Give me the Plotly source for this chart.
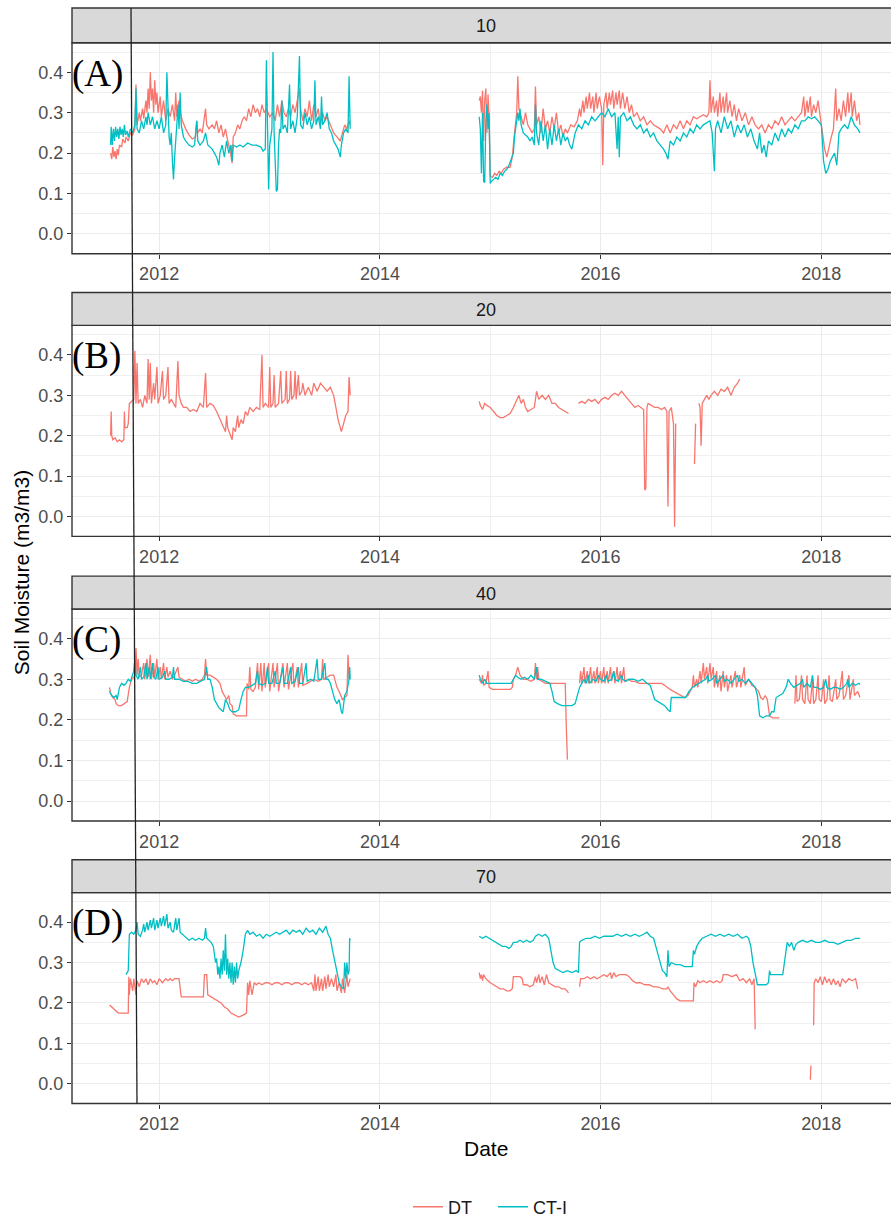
import plotly.graph_objects as go
from datetime import datetime

# ---------------- data: (decimal year, soil moisture m3/m3) ----------------
# a (year, None) entry breaks the line where the record is missing

dt_10 = [
    (2011.56, 0.200), (2011.57, 0.185), (2011.58, 0.215), (2011.59, 0.190), (2011.60, 0.205),
    (2011.61, 0.185), (2011.62, 0.210), (2011.63, 0.195), (2011.64, 0.220), (2011.66, 0.215),
    (2011.67, 0.235), (2011.69, 0.225), (2011.70, 0.240), (2011.72, 0.230), (2011.74, 0.250),
    (2011.76, 0.245), (2011.78, 0.260), (2011.79, 0.370), (2011.80, 0.270), (2011.82, 0.300),
    (2011.83, 0.280), (2011.85, 0.310), (2011.86, 0.285), (2011.88, 0.330), (2011.89, 0.300),
    (2011.90, 0.360), (2011.91, 0.310), (2011.92, 0.400), (2011.93, 0.330), (2011.94, 0.360),
    (2011.95, 0.300), (2011.96, 0.380), (2011.97, 0.320), (2011.98, 0.350), (2011.99, 0.300),
    (2012.01, 0.340), (2012.02, 0.290), (2012.04, 0.330), (2012.06, 0.280), (2012.08, 0.310),
    (2012.10, 0.290), (2012.12, 0.320), (2012.14, 0.280), (2012.15, 0.350), (2012.16, 0.290),
    (2012.18, 0.330), (2012.19, 0.300), (2012.21, 0.280), (2012.24, 0.260), (2012.27, 0.245),
    (2012.30, 0.235), (2012.33, 0.240), (2012.34, 0.280), (2012.35, 0.250), (2012.37, 0.260),
    (2012.39, 0.250), (2012.42, 0.310), (2012.43, 0.270), (2012.45, 0.260), (2012.48, 0.270),
    (2012.50, 0.260), (2012.52, 0.280), (2012.54, 0.250), (2012.56, 0.270), (2012.58, 0.240),
    (2012.60, 0.260), (2012.62, 0.230), (2012.64, 0.210), (2012.66, 0.175), (2012.67, 0.240),
    (2012.69, 0.250), (2012.71, 0.270), (2012.73, 0.260), (2012.75, 0.280), (2012.77, 0.290),
    (2012.79, 0.280), (2012.81, 0.310), (2012.83, 0.290), (2012.85, 0.320), (2012.87, 0.300),
    (2012.89, 0.310), (2012.91, 0.290), (2012.93, 0.320), (2012.95, 0.300), (2012.97, 0.310),
    (2013.00, 0.290), (2013.03, 0.300), (2013.05, 0.280), (2013.07, 0.320), (2013.09, 0.290),
    (2013.11, 0.330), (2013.13, 0.300), (2013.15, 0.290), (2013.17, 0.310), (2013.19, 0.290),
    (2013.21, 0.320), (2013.23, 0.300), (2013.25, 0.330), (2013.27, 0.360), (2013.28, 0.310),
    (2013.30, 0.280), (2013.32, 0.310), (2013.34, 0.290), (2013.36, 0.330), (2013.38, 0.280),
    (2013.40, 0.320), (2013.42, 0.290), (2013.44, 0.310), (2013.46, 0.270), (2013.48, 0.300),
    (2013.50, 0.280), (2013.52, 0.290), (2013.55, 0.270), (2013.58, 0.250), (2013.61, 0.240),
    (2013.64, 0.230), (2013.66, 0.250), (2013.68, 0.270), (2013.70, 0.260), (2013.72, 0.280),
    (2013.73, 0.270),
    (2014.30, None),
    (2014.90, 0.330), (2014.91, 0.340), (2014.92, 0.300), (2014.93, 0.355), (2014.94, 0.230),
    (2014.95, 0.330), (2014.96, 0.360), (2014.97, 0.250), (2014.98, 0.345), (2014.99, 0.280),
    (2015.00, 0.143), (2015.02, 0.140), (2015.04, 0.150), (2015.06, 0.145), (2015.08, 0.155),
    (2015.10, 0.150), (2015.12, 0.160), (2015.15, 0.165), (2015.18, 0.165), (2015.20, 0.190),
    (2015.22, 0.250), (2015.23, 0.280), (2015.24, 0.300), (2015.25, 0.390), (2015.26, 0.310),
    (2015.28, 0.290), (2015.30, 0.270), (2015.32, 0.300), (2015.34, 0.270), (2015.36, 0.260),
    (2015.38, 0.250), (2015.40, 0.260), (2015.41, 0.365), (2015.42, 0.270), (2015.44, 0.290),
    (2015.46, 0.250), (2015.48, 0.310), (2015.50, 0.260), (2015.52, 0.280), (2015.54, 0.250),
    (2015.56, 0.290), (2015.58, 0.260), (2015.60, 0.300), (2015.62, 0.250), (2015.64, 0.270),
    (2015.66, 0.240), (2015.68, 0.260), (2015.70, 0.250), (2015.73, 0.270), (2015.76, 0.265),
    (2015.79, 0.280), (2015.81, 0.310), (2015.82, 0.290), (2015.84, 0.330), (2015.85, 0.300),
    (2015.87, 0.340), (2015.88, 0.310), (2015.90, 0.350), (2015.91, 0.310), (2015.93, 0.340),
    (2015.94, 0.300), (2015.96, 0.350), (2015.97, 0.310), (2015.99, 0.340), (2016.01, 0.310),
    (2016.02, 0.170), (2016.03, 0.320), (2016.05, 0.350), (2016.06, 0.310), (2016.08, 0.350),
    (2016.09, 0.320), (2016.11, 0.355), (2016.12, 0.310), (2016.14, 0.350), (2016.15, 0.320),
    (2016.17, 0.355), (2016.18, 0.310), (2016.20, 0.350), (2016.22, 0.310), (2016.24, 0.340),
    (2016.26, 0.300), (2016.28, 0.320), (2016.30, 0.290), (2016.33, 0.300), (2016.36, 0.280),
    (2016.39, 0.290), (2016.42, 0.270), (2016.45, 0.280), (2016.48, 0.270), (2016.51, 0.265),
    (2016.54, 0.260), (2016.57, 0.250), (2016.60, 0.270), (2016.63, 0.250), (2016.66, 0.270),
    (2016.69, 0.260), (2016.72, 0.280), (2016.75, 0.260), (2016.78, 0.280), (2016.81, 0.270),
    (2016.84, 0.290), (2016.87, 0.285), (2016.90, 0.290), (2016.93, 0.295), (2016.96, 0.290),
    (2016.98, 0.300), (2016.99, 0.380), (2017.00, 0.300), (2017.02, 0.340), (2017.03, 0.300),
    (2017.05, 0.330), (2017.06, 0.290), (2017.08, 0.350), (2017.09, 0.300), (2017.11, 0.340),
    (2017.12, 0.300), (2017.14, 0.350), (2017.15, 0.300), (2017.17, 0.330), (2017.19, 0.290),
    (2017.21, 0.320), (2017.23, 0.280), (2017.25, 0.310), (2017.28, 0.280), (2017.31, 0.300),
    (2017.34, 0.270), (2017.37, 0.290), (2017.40, 0.270), (2017.43, 0.260), (2017.46, 0.270),
    (2017.49, 0.250), (2017.52, 0.270), (2017.55, 0.260), (2017.58, 0.280), (2017.61, 0.270),
    (2017.64, 0.290), (2017.67, 0.270), (2017.70, 0.280), (2017.73, 0.290), (2017.76, 0.280),
    (2017.79, 0.290), (2017.82, 0.300), (2017.84, 0.340), (2017.85, 0.290), (2017.87, 0.330),
    (2017.88, 0.300), (2017.90, 0.340), (2017.91, 0.290), (2017.93, 0.320), (2017.95, 0.300),
    (2017.97, 0.330), (2017.99, 0.290), (2018.01, 0.240), (2018.03, 0.210), (2018.05, 0.190),
    (2018.07, 0.220), (2018.09, 0.240), (2018.11, 0.260), (2018.13, 0.360), (2018.14, 0.280),
    (2018.16, 0.310), (2018.18, 0.280), (2018.20, 0.330), (2018.22, 0.290), (2018.24, 0.350),
    (2018.25, 0.300), (2018.27, 0.350), (2018.28, 0.290), (2018.30, 0.330), (2018.32, 0.280),
    (2018.34, 0.300), (2018.35, 0.270),
]

ct_10 = [
    (2011.560, 0.220), (2011.565, 0.265), (2011.575, 0.220), (2011.585, 0.260), (2011.595, 0.230),
    (2011.605, 0.265), (2011.615, 0.240), (2011.625, 0.260), (2011.635, 0.235), (2011.645, 0.265),
    (2011.655, 0.245), (2011.665, 0.260), (2011.675, 0.240), (2011.685, 0.270), (2011.695, 0.245),
    (2011.71, 0.255), (2011.72, 0.240), (2011.74, 0.260), (2011.76, 0.250), (2011.78, 0.270),
    (2011.79, 0.360), (2011.80, 0.260), (2011.82, 0.250), (2011.84, 0.280), (2011.86, 0.260),
    (2011.88, 0.290), (2011.89, 0.270), (2011.90, 0.300), (2011.92, 0.270), (2011.94, 0.290),
    (2011.96, 0.260), (2011.98, 0.280), (2012.00, 0.260), (2012.02, 0.290), (2012.04, 0.250),
    (2012.06, 0.270), (2012.07, 0.400), (2012.08, 0.280), (2012.09, 0.240), (2012.10, 0.220),
    (2012.11, 0.250), (2012.12, 0.180), (2012.13, 0.135), (2012.14, 0.190), (2012.15, 0.250),
    (2012.16, 0.270), (2012.17, 0.320), (2012.18, 0.260), (2012.19, 0.350), (2012.20, 0.270),
    (2012.22, 0.240), (2012.24, 0.230), (2012.27, 0.220), (2012.30, 0.215), (2012.32, 0.220),
    (2012.34, 0.280), (2012.35, 0.230), (2012.37, 0.220), (2012.40, 0.230), (2012.42, 0.250),
    (2012.44, 0.220), (2012.46, 0.215), (2012.48, 0.210), (2012.50, 0.200), (2012.52, 0.190),
    (2012.54, 0.170), (2012.55, 0.200), (2012.57, 0.220), (2012.59, 0.190), (2012.61, 0.230),
    (2012.63, 0.200), (2012.65, 0.220), (2012.66, 0.180), (2012.67, 0.220), (2012.70, 0.215),
    (2012.73, 0.220), (2012.76, 0.215), (2012.80, 0.225), (2012.84, 0.220), (2012.88, 0.220),
    (2012.92, 0.215), (2012.94, 0.205), (2012.96, 0.210), (2012.97, 0.430), (2012.98, 0.210),
    (2012.99, 0.110), (2013.00, 0.220), (2013.02, 0.260), (2013.03, 0.450), (2013.04, 0.250),
    (2013.06, 0.105), (2013.07, 0.110), (2013.08, 0.220), (2013.09, 0.260), (2013.10, 0.250),
    (2013.11, 0.330), (2013.12, 0.260), (2013.14, 0.270), (2013.16, 0.250), (2013.18, 0.370),
    (2013.19, 0.260), (2013.21, 0.280), (2013.23, 0.250), (2013.25, 0.290), (2013.27, 0.440),
    (2013.28, 0.270), (2013.30, 0.260), (2013.32, 0.300), (2013.34, 0.270), (2013.36, 0.290),
    (2013.38, 0.260), (2013.40, 0.280), (2013.41, 0.380), (2013.42, 0.270), (2013.44, 0.290),
    (2013.46, 0.260), (2013.47, 0.340), (2013.48, 0.270), (2013.50, 0.280), (2013.52, 0.300),
    (2013.54, 0.260), (2013.56, 0.250), (2013.58, 0.230), (2013.60, 0.220), (2013.62, 0.210),
    (2013.64, 0.190), (2013.65, 0.220), (2013.67, 0.250), (2013.69, 0.260), (2013.71, 0.250),
    (2013.72, 0.390), (2013.73, 0.260),
    (2014.30, None),
    (2014.90, 0.290), (2014.91, 0.260), (2014.92, 0.150), (2014.93, 0.300), (2014.94, 0.130),
    (2014.95, 0.127), (2014.96, 0.280), (2014.97, 0.320), (2014.98, 0.260), (2014.99, 0.300),
    (2015.00, 0.125), (2015.01, 0.130), (2015.03, 0.135), (2015.05, 0.140), (2015.07, 0.135),
    (2015.09, 0.150), (2015.11, 0.145), (2015.13, 0.155), (2015.15, 0.160), (2015.17, 0.170),
    (2015.19, 0.185), (2015.21, 0.200), (2015.22, 0.240), (2015.24, 0.280), (2015.25, 0.300),
    (2015.26, 0.280), (2015.27, 0.310), (2015.28, 0.270), (2015.30, 0.250), (2015.32, 0.245),
    (2015.34, 0.240), (2015.36, 0.230), (2015.38, 0.240), (2015.40, 0.220), (2015.41, 0.320),
    (2015.42, 0.250), (2015.44, 0.220), (2015.46, 0.280), (2015.48, 0.230), (2015.50, 0.270),
    (2015.52, 0.210), (2015.54, 0.260), (2015.56, 0.220), (2015.58, 0.270), (2015.60, 0.230),
    (2015.62, 0.260), (2015.64, 0.220), (2015.66, 0.250), (2015.68, 0.230), (2015.70, 0.240),
    (2015.72, 0.220), (2015.74, 0.210), (2015.77, 0.250), (2015.80, 0.270), (2015.83, 0.260),
    (2015.86, 0.280), (2015.89, 0.270), (2015.92, 0.290), (2015.95, 0.280), (2015.98, 0.290),
    (2016.01, 0.300), (2016.04, 0.290), (2016.07, 0.310), (2016.10, 0.290), (2016.13, 0.300),
    (2016.15, 0.210), (2016.16, 0.290), (2016.17, 0.190), (2016.18, 0.290), (2016.21, 0.300),
    (2016.24, 0.280), (2016.27, 0.290), (2016.30, 0.270), (2016.33, 0.260), (2016.36, 0.270),
    (2016.39, 0.250), (2016.42, 0.260), (2016.45, 0.240), (2016.48, 0.250), (2016.51, 0.230),
    (2016.54, 0.220), (2016.57, 0.210), (2016.59, 0.200), (2016.61, 0.185), (2016.63, 0.230),
    (2016.66, 0.220), (2016.69, 0.240), (2016.72, 0.230), (2016.75, 0.250), (2016.78, 0.240),
    (2016.81, 0.260), (2016.84, 0.250), (2016.87, 0.270), (2016.90, 0.260), (2016.93, 0.270),
    (2016.96, 0.275), (2016.99, 0.280), (2017.01, 0.250), (2017.03, 0.155), (2017.04, 0.260),
    (2017.06, 0.280), (2017.09, 0.250), (2017.12, 0.290), (2017.15, 0.260), (2017.18, 0.280),
    (2017.21, 0.240), (2017.24, 0.270), (2017.27, 0.250), (2017.30, 0.270), (2017.33, 0.240),
    (2017.36, 0.260), (2017.39, 0.230), (2017.42, 0.210), (2017.44, 0.250), (2017.46, 0.200),
    (2017.48, 0.220), (2017.50, 0.190), (2017.52, 0.230), (2017.55, 0.220), (2017.58, 0.250),
    (2017.61, 0.230), (2017.64, 0.260), (2017.67, 0.240), (2017.70, 0.260), (2017.73, 0.250),
    (2017.76, 0.270), (2017.79, 0.260), (2017.82, 0.280), (2017.85, 0.280), (2017.88, 0.290),
    (2017.91, 0.285), (2017.94, 0.290), (2017.97, 0.280), (2018.00, 0.270), (2018.02, 0.180),
    (2018.04, 0.150), (2018.06, 0.160), (2018.08, 0.180), (2018.10, 0.190), (2018.12, 0.200),
    (2018.14, 0.170), (2018.16, 0.250), (2018.18, 0.260), (2018.21, 0.270), (2018.24, 0.260),
    (2018.27, 0.290), (2018.30, 0.270), (2018.33, 0.260), (2018.35, 0.250),
]

dt_20 = [
    (2011.560, 0.200), (2011.565, 0.260), (2011.570, 0.200), (2011.58, 0.190), (2011.60, 0.195),
    (2011.62, 0.185), (2011.64, 0.190), (2011.66, 0.185), (2011.68, 0.190), (2011.685, 0.260),
    (2011.69, 0.220), (2011.71, 0.220), (2011.72, 0.230), (2011.73, 0.280), (2011.75, 0.285),
    (2011.77, 0.290), (2011.78, 0.410), (2011.79, 0.280), (2011.80, 0.380), (2011.81, 0.280),
    (2011.83, 0.290), (2011.85, 0.270), (2011.87, 0.300), (2011.89, 0.280), (2011.90, 0.390),
    (2011.91, 0.290), (2011.92, 0.380), (2011.93, 0.280), (2011.95, 0.330), (2011.96, 0.290),
    (2011.98, 0.370), (2011.99, 0.280), (2012.01, 0.300), (2012.03, 0.360), (2012.04, 0.290),
    (2012.06, 0.300), (2012.08, 0.370), (2012.09, 0.280), (2012.11, 0.290), (2012.13, 0.280),
    (2012.15, 0.270), (2012.17, 0.385), (2012.18, 0.300), (2012.20, 0.280), (2012.22, 0.270),
    (2012.25, 0.270), (2012.28, 0.260), (2012.31, 0.265), (2012.34, 0.260), (2012.37, 0.280),
    (2012.40, 0.270), (2012.42, 0.355), (2012.43, 0.270), (2012.46, 0.280), (2012.49, 0.275),
    (2012.52, 0.260), (2012.55, 0.240), (2012.58, 0.220), (2012.60, 0.210), (2012.61, 0.250),
    (2012.62, 0.220), (2012.64, 0.205), (2012.66, 0.190), (2012.67, 0.220), (2012.69, 0.210),
    (2012.71, 0.250), (2012.72, 0.220), (2012.74, 0.240), (2012.76, 0.230), (2012.78, 0.260),
    (2012.80, 0.250), (2012.82, 0.270), (2012.85, 0.260), (2012.88, 0.270), (2012.91, 0.265),
    (2012.93, 0.400), (2012.94, 0.270), (2012.96, 0.280), (2012.99, 0.270), (2013.00, 0.370),
    (2013.01, 0.270), (2013.03, 0.280), (2013.04, 0.350), (2013.05, 0.270), (2013.08, 0.280),
    (2013.10, 0.360), (2013.11, 0.280), (2013.14, 0.290), (2013.15, 0.360), (2013.16, 0.280),
    (2013.18, 0.290), (2013.19, 0.360), (2013.20, 0.290), (2013.22, 0.300), (2013.23, 0.360),
    (2013.24, 0.290), (2013.26, 0.350), (2013.27, 0.300), (2013.29, 0.310), (2013.30, 0.330),
    (2013.32, 0.300), (2013.35, 0.320), (2013.38, 0.300), (2013.40, 0.330), (2013.43, 0.310),
    (2013.46, 0.330), (2013.49, 0.320), (2013.52, 0.310), (2013.55, 0.320), (2013.58, 0.300),
    (2013.60, 0.270), (2013.62, 0.240), (2013.65, 0.210), (2013.67, 0.230), (2013.69, 0.250),
    (2013.71, 0.260), (2013.72, 0.345), (2013.73, 0.300),
    (2014.30, None),
    (2014.90, 0.285), (2014.91, 0.275), (2014.93, 0.265), (2014.95, 0.280), (2014.97, 0.275),
    (2015.00, 0.270), (2015.03, 0.260), (2015.06, 0.250), (2015.09, 0.245), (2015.12, 0.245),
    (2015.15, 0.250), (2015.18, 0.255), (2015.21, 0.270), (2015.24, 0.290), (2015.26, 0.300),
    (2015.28, 0.280), (2015.30, 0.290), (2015.32, 0.270), (2015.34, 0.260), (2015.37, 0.265),
    (2015.40, 0.270), (2015.42, 0.310), (2015.44, 0.290), (2015.47, 0.300), (2015.50, 0.290),
    (2015.53, 0.300), (2015.56, 0.280), (2015.59, 0.280), (2015.62, 0.270), (2015.65, 0.265),
    (2015.68, 0.260), (2015.71, 0.255),
    (2015.75, None),
    (2015.80, 0.280), (2015.83, 0.285), (2015.86, 0.280), (2015.89, 0.290), (2015.92, 0.285),
    (2015.95, 0.290), (2015.98, 0.280), (2016.01, 0.290), (2016.04, 0.295), (2016.07, 0.290),
    (2016.10, 0.300), (2016.13, 0.305), (2016.16, 0.300), (2016.19, 0.310), (2016.22, 0.300),
    (2016.25, 0.290), (2016.28, 0.280), (2016.31, 0.270), (2016.34, 0.275), (2016.37, 0.270),
    (2016.39, 0.265), (2016.40, 0.065), (2016.41, 0.070), (2016.42, 0.270), (2016.43, 0.280),
    (2016.46, 0.275), (2016.49, 0.270), (2016.52, 0.270), (2016.55, 0.265), (2016.58, 0.270),
    (2016.60, 0.260), (2016.61, 0.025), (2016.62, 0.260), (2016.64, 0.270), (2016.66, 0.230),
    (2016.67, -0.025), (2016.68, 0.230),
    (2016.77, None),
    (2016.85, 0.130), (2016.86, 0.230),
    (2016.875, None),
    (2016.89, 0.280), (2016.90, 0.270), (2016.91, 0.175), (2016.92, 0.280), (2016.94, 0.290),
    (2016.96, 0.300), (2016.98, 0.290), (2017.00, 0.300), (2017.03, 0.310), (2017.06, 0.300),
    (2017.09, 0.315), (2017.12, 0.310), (2017.15, 0.320), (2017.18, 0.300), (2017.21, 0.320),
    (2017.24, 0.330), (2017.26, 0.340),
]

dt_40 = [
    (2011.55, 0.280), (2011.56, 0.265), (2011.58, 0.255), (2011.60, 0.250), (2011.61, 0.240),
    (2011.63, 0.235), (2011.66, 0.235), (2011.69, 0.240), (2011.71, 0.245), (2011.73, 0.280),
    (2011.75, 0.300), (2011.77, 0.305), (2011.78, 0.310), (2011.79, 0.377), (2011.80, 0.310),
    (2011.81, 0.350), (2011.82, 0.305), (2011.84, 0.310), (2011.86, 0.340), (2011.87, 0.300),
    (2011.89, 0.350), (2011.90, 0.305), (2011.92, 0.360), (2011.93, 0.300), (2011.95, 0.340),
    (2011.96, 0.305), (2011.98, 0.350), (2011.99, 0.300), (2012.01, 0.330), (2012.02, 0.300),
    (2012.04, 0.340), (2012.05, 0.300), (2012.07, 0.330), (2012.08, 0.305), (2012.10, 0.320),
    (2012.12, 0.300), (2012.14, 0.310), (2012.17, 0.330), (2012.18, 0.305), (2012.21, 0.300),
    (2012.24, 0.295), (2012.27, 0.300), (2012.30, 0.295), (2012.33, 0.300), (2012.36, 0.295),
    (2012.39, 0.300), (2012.41, 0.310), (2012.42, 0.350), (2012.43, 0.310), (2012.46, 0.310),
    (2012.49, 0.305), (2012.52, 0.300), (2012.55, 0.290), (2012.57, 0.270), (2012.59, 0.260),
    (2012.61, 0.250), (2012.63, 0.260), (2012.64, 0.240), (2012.66, 0.235), (2012.67, 0.215),
    (2012.70, 0.210), (2012.73, 0.210), (2012.76, 0.210), (2012.79, 0.210), (2012.795, 0.290),
    (2012.81, 0.275), (2012.82, 0.330), (2012.83, 0.275), (2012.85, 0.270), (2012.87, 0.280),
    (2012.89, 0.340), (2012.90, 0.275), (2012.92, 0.340), (2012.93, 0.270), (2012.95, 0.340),
    (2012.96, 0.280), (2012.99, 0.340), (2013.00, 0.270), (2013.03, 0.340), (2013.04, 0.280),
    (2013.07, 0.340), (2013.08, 0.270), (2013.12, 0.340), (2013.13, 0.280), (2013.16, 0.340),
    (2013.17, 0.275), (2013.21, 0.340), (2013.22, 0.280), (2013.25, 0.330), (2013.26, 0.280),
    (2013.29, 0.340), (2013.30, 0.285), (2013.34, 0.290), (2013.37, 0.295), (2013.40, 0.300),
    (2013.44, 0.295), (2013.47, 0.300), (2013.48, 0.350), (2013.49, 0.300), (2013.52, 0.305),
    (2013.55, 0.310), (2013.58, 0.310), (2013.61, 0.280), (2013.63, 0.270), (2013.66, 0.250),
    (2013.68, 0.255), (2013.70, 0.260), (2013.71, 0.360), (2013.72, 0.300), (2013.73, 0.305),
    (2014.30, None),
    (2014.90, 0.300), (2014.92, 0.290), (2014.93, 0.310), (2014.94, 0.285), (2014.96, 0.290),
    (2014.98, 0.320), (2014.99, 0.280), (2015.02, 0.275), (2015.06, 0.275), (2015.10, 0.275),
    (2015.14, 0.275), (2015.18, 0.275), (2015.20, 0.280), (2015.21, 0.300), (2015.23, 0.310),
    (2015.25, 0.330), (2015.27, 0.310), (2015.30, 0.300), (2015.33, 0.300), (2015.37, 0.295),
    (2015.40, 0.300), (2015.41, 0.340), (2015.42, 0.300), (2015.43, 0.330), (2015.44, 0.300),
    (2015.47, 0.295), (2015.50, 0.290), (2015.54, 0.290), (2015.58, 0.290), (2015.62, 0.290),
    (2015.66, 0.290), (2015.68, 0.290), (2015.69, 0.180), (2015.70, 0.102),
    (2015.75, None),
    (2015.81, 0.290), (2015.82, 0.320), (2015.83, 0.290), (2015.85, 0.330), (2015.86, 0.290),
    (2015.88, 0.320), (2015.89, 0.290), (2015.91, 0.330), (2015.92, 0.290), (2015.94, 0.320),
    (2015.95, 0.290), (2015.97, 0.330), (2015.98, 0.290), (2016.00, 0.320), (2016.01, 0.290),
    (2016.03, 0.330), (2016.04, 0.290), (2016.06, 0.320), (2016.07, 0.290), (2016.09, 0.330),
    (2016.10, 0.295), (2016.12, 0.320), (2016.13, 0.290), (2016.15, 0.330), (2016.16, 0.295),
    (2016.18, 0.320), (2016.19, 0.290), (2016.21, 0.330), (2016.22, 0.295), (2016.25, 0.300),
    (2016.28, 0.295), (2016.31, 0.295), (2016.35, 0.290), (2016.40, 0.290), (2016.45, 0.290),
    (2016.50, 0.290), (2016.55, 0.290), (2016.58, 0.285), (2016.60, 0.280), (2016.63, 0.275),
    (2016.66, 0.270), (2016.69, 0.265), (2016.72, 0.260), (2016.76, 0.255), (2016.79, 0.260),
    (2016.81, 0.270), (2016.83, 0.280), (2016.84, 0.310), (2016.85, 0.280), (2016.87, 0.300),
    (2016.88, 0.280), (2016.90, 0.320), (2016.91, 0.290), (2016.93, 0.340), (2016.94, 0.300),
    (2016.96, 0.330), (2016.97, 0.290), (2016.99, 0.340), (2017.00, 0.300), (2017.02, 0.330),
    (2017.03, 0.280), (2017.05, 0.320), (2017.06, 0.280), (2017.08, 0.310), (2017.09, 0.270),
    (2017.11, 0.320), (2017.12, 0.280), (2017.14, 0.310), (2017.15, 0.270), (2017.18, 0.310),
    (2017.19, 0.280), (2017.22, 0.320), (2017.23, 0.280), (2017.26, 0.310), (2017.27, 0.280),
    (2017.30, 0.330), (2017.31, 0.285), (2017.34, 0.300), (2017.37, 0.285), (2017.40, 0.280),
    (2017.43, 0.270), (2017.45, 0.255), (2017.47, 0.250), (2017.49, 0.260), (2017.51, 0.250),
    (2017.53, 0.210), (2017.56, 0.205), (2017.59, 0.205), (2017.62, 0.205),
    (2017.70, None),
    (2017.76, 0.240), (2017.77, 0.310), (2017.78, 0.245), (2017.80, 0.250), (2017.82, 0.310),
    (2017.83, 0.250), (2017.85, 0.240), (2017.87, 0.310), (2017.88, 0.250), (2017.90, 0.240),
    (2017.92, 0.300), (2017.93, 0.240), (2017.95, 0.250), (2017.97, 0.310), (2017.98, 0.250),
    (2018.00, 0.245), (2018.02, 0.300), (2018.03, 0.240), (2018.05, 0.250), (2018.07, 0.310),
    (2018.08, 0.250), (2018.10, 0.245), (2018.13, 0.300), (2018.14, 0.250), (2018.16, 0.260),
    (2018.19, 0.320), (2018.20, 0.250), (2018.22, 0.260), (2018.25, 0.310), (2018.26, 0.250),
    (2018.29, 0.300), (2018.30, 0.260), (2018.33, 0.270), (2018.35, 0.255),
]

ct_40 = [
    (2011.55, 0.270), (2011.57, 0.260), (2011.59, 0.255), (2011.61, 0.260), (2011.62, 0.250),
    (2011.64, 0.280), (2011.66, 0.290), (2011.68, 0.285), (2011.70, 0.290), (2011.72, 0.300),
    (2011.74, 0.295), (2011.76, 0.310), (2011.77, 0.320), (2011.78, 0.350), (2011.79, 0.310),
    (2011.81, 0.300), (2011.83, 0.330), (2011.84, 0.300), (2011.86, 0.305), (2011.88, 0.340),
    (2011.89, 0.300), (2011.91, 0.330), (2011.92, 0.300), (2011.94, 0.340), (2011.95, 0.305),
    (2011.97, 0.300), (2011.99, 0.330), (2012.00, 0.300), (2012.03, 0.305), (2012.05, 0.320),
    (2012.06, 0.300), (2012.09, 0.300), (2012.12, 0.305), (2012.13, 0.330), (2012.14, 0.300),
    (2012.18, 0.300), (2012.22, 0.295), (2012.26, 0.295), (2012.30, 0.290), (2012.34, 0.290),
    (2012.38, 0.295), (2012.41, 0.300), (2012.43, 0.330), (2012.44, 0.300), (2012.46, 0.300),
    (2012.48, 0.280), (2012.50, 0.250), (2012.52, 0.240), (2012.54, 0.230), (2012.56, 0.225),
    (2012.58, 0.220), (2012.60, 0.250), (2012.62, 0.240), (2012.64, 0.225), (2012.66, 0.220),
    (2012.69, 0.220), (2012.72, 0.225), (2012.74, 0.250), (2012.76, 0.270), (2012.78, 0.280),
    (2012.81, 0.280), (2012.84, 0.285), (2012.87, 0.290), (2012.89, 0.320), (2012.90, 0.290),
    (2012.93, 0.285), (2012.96, 0.290), (2012.98, 0.330), (2012.99, 0.290), (2013.02, 0.290),
    (2013.05, 0.320), (2013.06, 0.290), (2013.09, 0.290), (2013.12, 0.330), (2013.13, 0.290),
    (2013.16, 0.290), (2013.19, 0.330), (2013.20, 0.290), (2013.23, 0.295), (2013.26, 0.330),
    (2013.27, 0.290), (2013.30, 0.290), (2013.33, 0.340), (2013.34, 0.295), (2013.37, 0.300),
    (2013.40, 0.295), (2013.43, 0.350), (2013.44, 0.300), (2013.47, 0.300), (2013.50, 0.340),
    (2013.51, 0.300), (2013.53, 0.300), (2013.55, 0.290), (2013.57, 0.270), (2013.59, 0.250),
    (2013.61, 0.240), (2013.63, 0.250), (2013.65, 0.220), (2013.66, 0.215), (2013.68, 0.260),
    (2013.70, 0.270), (2013.72, 0.300), (2013.725, 0.330), (2013.73, 0.300),
    (2014.30, None),
    (2014.90, 0.310), (2014.91, 0.300), (2014.93, 0.290), (2014.95, 0.300), (2014.97, 0.290),
    (2015.00, 0.290), (2015.05, 0.290), (2015.10, 0.290), (2015.15, 0.290), (2015.19, 0.290),
    (2015.21, 0.300), (2015.23, 0.310), (2015.25, 0.305), (2015.28, 0.300), (2015.31, 0.305),
    (2015.34, 0.300), (2015.37, 0.310), (2015.40, 0.300), (2015.42, 0.330), (2015.43, 0.300),
    (2015.46, 0.300), (2015.50, 0.295), (2015.54, 0.290), (2015.56, 0.270), (2015.58, 0.245),
    (2015.61, 0.240), (2015.65, 0.235), (2015.70, 0.235), (2015.74, 0.235), (2015.77, 0.240),
    (2015.79, 0.260), (2015.81, 0.280), (2015.83, 0.290), (2015.85, 0.300), (2015.87, 0.290),
    (2015.89, 0.310), (2015.90, 0.290), (2015.93, 0.300), (2015.96, 0.295), (2015.98, 0.310),
    (2016.00, 0.300), (2016.03, 0.295), (2016.05, 0.310), (2016.07, 0.295), (2016.10, 0.300),
    (2016.12, 0.320), (2016.13, 0.300), (2016.16, 0.295), (2016.19, 0.310), (2016.20, 0.300),
    (2016.23, 0.295), (2016.26, 0.300), (2016.30, 0.300), (2016.34, 0.295), (2016.38, 0.300),
    (2016.42, 0.290), (2016.45, 0.285), (2016.47, 0.270), (2016.49, 0.250), (2016.52, 0.245),
    (2016.55, 0.240), (2016.58, 0.235), (2016.61, 0.225), (2016.63, 0.220), (2016.64, 0.255),
    (2016.67, 0.255), (2016.72, 0.255), (2016.77, 0.255), (2016.80, 0.270), (2016.83, 0.280),
    (2016.86, 0.285), (2016.89, 0.290), (2016.92, 0.295), (2016.95, 0.300), (2016.97, 0.310),
    (2016.98, 0.295), (2017.01, 0.300), (2017.04, 0.310), (2017.05, 0.290), (2017.08, 0.300),
    (2017.11, 0.310), (2017.12, 0.295), (2017.15, 0.300), (2017.18, 0.290), (2017.21, 0.300),
    (2017.24, 0.310), (2017.25, 0.295), (2017.28, 0.300), (2017.31, 0.290), (2017.34, 0.300),
    (2017.37, 0.290), (2017.40, 0.280), (2017.42, 0.260), (2017.44, 0.210), (2017.47, 0.205),
    (2017.50, 0.210), (2017.53, 0.210), (2017.55, 0.220), (2017.57, 0.220), (2017.59, 0.255),
    (2017.62, 0.260), (2017.65, 0.265), (2017.68, 0.280), (2017.70, 0.300), (2017.72, 0.290),
    (2017.75, 0.280), (2017.78, 0.285), (2017.81, 0.290), (2017.83, 0.300), (2017.84, 0.280),
    (2017.87, 0.290), (2017.90, 0.280), (2017.92, 0.310), (2017.93, 0.280), (2017.96, 0.280),
    (2017.99, 0.275), (2018.02, 0.280), (2018.04, 0.300), (2018.05, 0.280), (2018.08, 0.275),
    (2018.11, 0.280), (2018.14, 0.280), (2018.17, 0.275), (2018.20, 0.280), (2018.23, 0.290),
    (2018.24, 0.300), (2018.25, 0.280), (2018.28, 0.290), (2018.31, 0.285), (2018.34, 0.290),
    (2018.35, 0.287),
]

dt_70 = [
    (2011.55, 0.195), (2011.57, 0.190), (2011.59, 0.185), (2011.61, 0.180), (2011.63, 0.175),
    (2011.66, 0.175), (2011.69, 0.175), (2011.72, 0.175), (2011.725, 0.265), (2011.73, 0.220),
    (2011.74, 0.260), (2011.76, 0.230), (2011.77, 0.260), (2011.79, 0.220), (2011.80, 0.255),
    (2011.82, 0.240), (2011.84, 0.260), (2011.86, 0.250), (2011.88, 0.260), (2011.90, 0.245),
    (2011.92, 0.260), (2011.94, 0.250), (2011.96, 0.255), (2011.98, 0.245), (2012.00, 0.260),
    (2012.03, 0.250), (2012.06, 0.260), (2012.08, 0.255), (2012.10, 0.260), (2012.12, 0.255),
    (2012.14, 0.260), (2012.16, 0.260), (2012.18, 0.260), (2012.20, 0.215), (2012.24, 0.215),
    (2012.28, 0.215), (2012.32, 0.215), (2012.36, 0.215), (2012.40, 0.215), (2012.41, 0.270),
    (2012.43, 0.270), (2012.44, 0.220), (2012.47, 0.215), (2012.50, 0.210), (2012.53, 0.205),
    (2012.56, 0.200), (2012.59, 0.190), (2012.62, 0.185), (2012.65, 0.175), (2012.68, 0.170),
    (2012.72, 0.165), (2012.76, 0.170), (2012.79, 0.175), (2012.80, 0.250), (2012.81, 0.220),
    (2012.82, 0.255), (2012.84, 0.220), (2012.86, 0.250), (2012.88, 0.245), (2012.90, 0.250),
    (2012.93, 0.245), (2012.96, 0.250), (2012.99, 0.250), (2013.02, 0.245), (2013.05, 0.250),
    (2013.08, 0.250), (2013.11, 0.245), (2013.14, 0.250), (2013.17, 0.250), (2013.20, 0.245),
    (2013.23, 0.250), (2013.26, 0.250), (2013.29, 0.245), (2013.32, 0.250), (2013.35, 0.245),
    (2013.38, 0.250), (2013.40, 0.230), (2013.41, 0.270), (2013.42, 0.230), (2013.44, 0.265),
    (2013.45, 0.230), (2013.47, 0.260), (2013.48, 0.230), (2013.50, 0.265), (2013.51, 0.235),
    (2013.53, 0.270), (2013.54, 0.240), (2013.56, 0.260), (2013.58, 0.240), (2013.60, 0.270),
    (2013.61, 0.230), (2013.63, 0.250), (2013.65, 0.225), (2013.66, 0.260), (2013.68, 0.225),
    (2013.70, 0.270), (2013.71, 0.240), (2013.73, 0.260),
    (2014.30, None),
    (2014.90, 0.275), (2014.91, 0.260), (2014.92, 0.270), (2014.93, 0.255), (2014.94, 0.270),
    (2014.96, 0.260), (2014.98, 0.255), (2015.00, 0.250), (2015.03, 0.245), (2015.06, 0.240),
    (2015.09, 0.235), (2015.12, 0.235), (2015.15, 0.230), (2015.18, 0.230), (2015.20, 0.235),
    (2015.21, 0.265), (2015.24, 0.265), (2015.27, 0.265), (2015.29, 0.260), (2015.30, 0.245),
    (2015.33, 0.245), (2015.36, 0.240), (2015.39, 0.245), (2015.41, 0.265), (2015.42, 0.250),
    (2015.44, 0.270), (2015.45, 0.250), (2015.47, 0.265), (2015.49, 0.245), (2015.51, 0.270),
    (2015.53, 0.250), (2015.56, 0.245), (2015.59, 0.240), (2015.62, 0.240), (2015.65, 0.235),
    (2015.68, 0.235), (2015.71, 0.225),
    (2015.76, None),
    (2015.81, 0.240), (2015.82, 0.260), (2015.85, 0.260), (2015.88, 0.265), (2015.91, 0.260),
    (2015.94, 0.265), (2015.97, 0.260), (2016.00, 0.265), (2016.03, 0.270), (2016.06, 0.265),
    (2016.09, 0.275), (2016.10, 0.260), (2016.12, 0.275), (2016.14, 0.265), (2016.17, 0.270),
    (2016.20, 0.270), (2016.23, 0.270), (2016.26, 0.265), (2016.29, 0.255), (2016.32, 0.250),
    (2016.36, 0.250), (2016.40, 0.245), (2016.44, 0.245), (2016.48, 0.240), (2016.52, 0.240),
    (2016.56, 0.235), (2016.60, 0.235), (2016.61, 0.240), (2016.63, 0.230), (2016.66, 0.220),
    (2016.69, 0.210), (2016.72, 0.205), (2016.76, 0.205), (2016.80, 0.205), (2016.84, 0.205),
    (2016.845, 0.250), (2016.86, 0.240), (2016.88, 0.255), (2016.90, 0.250), (2016.93, 0.255),
    (2016.96, 0.250), (2016.99, 0.255), (2017.02, 0.250), (2017.05, 0.255), (2017.08, 0.250),
    (2017.10, 0.255), (2017.11, 0.270), (2017.15, 0.270), (2017.19, 0.265), (2017.23, 0.270),
    (2017.26, 0.255), (2017.29, 0.260), (2017.32, 0.250), (2017.35, 0.260), (2017.37, 0.245),
    (2017.39, 0.260), (2017.40, 0.135),
    (2017.65, None),
    (2017.900, 0.010), (2017.905, 0.045),
    (2017.915, None),
    (2017.930, 0.145), (2017.935, 0.250), (2017.95, 0.260), (2017.97, 0.250), (2017.99, 0.265),
    (2018.01, 0.245), (2018.03, 0.265), (2018.05, 0.250), (2018.07, 0.260), (2018.09, 0.245),
    (2018.11, 0.260), (2018.13, 0.245), (2018.15, 0.255), (2018.17, 0.240), (2018.19, 0.260),
    (2018.22, 0.250), (2018.25, 0.260), (2018.28, 0.255), (2018.31, 0.260), (2018.33, 0.235),
]

ct_70 = [
    (2011.70, 0.270), (2011.72, 0.280), (2011.73, 0.370), (2011.75, 0.375), (2011.77, 0.370),
    (2011.79, 0.380), (2011.80, 0.400), (2011.81, 0.370), (2011.83, 0.365), (2011.85, 0.380),
    (2011.86, 0.395), (2011.87, 0.375), (2011.89, 0.400), (2011.90, 0.380), (2011.92, 0.405),
    (2011.93, 0.385), (2011.95, 0.410), (2011.96, 0.380), (2011.98, 0.405), (2011.99, 0.385),
    (2012.01, 0.410), (2012.02, 0.390), (2012.04, 0.415), (2012.05, 0.390), (2012.07, 0.420),
    (2012.08, 0.385), (2012.10, 0.400), (2012.11, 0.380), (2012.13, 0.375), (2012.15, 0.410),
    (2012.16, 0.380), (2012.18, 0.410), (2012.19, 0.375), (2012.21, 0.370), (2012.24, 0.365),
    (2012.27, 0.355), (2012.30, 0.360), (2012.33, 0.355), (2012.36, 0.360), (2012.39, 0.355),
    (2012.41, 0.360), (2012.42, 0.385), (2012.43, 0.360), (2012.45, 0.355), (2012.47, 0.350),
    (2012.49, 0.340), (2012.51, 0.300), (2012.52, 0.310), (2012.53, 0.270), (2012.54, 0.290),
    (2012.55, 0.260), (2012.56, 0.310), (2012.57, 0.270), (2012.58, 0.330), (2012.59, 0.280),
    (2012.60, 0.370), (2012.61, 0.270), (2012.62, 0.310), (2012.63, 0.260), (2012.64, 0.300),
    (2012.65, 0.250), (2012.66, 0.300), (2012.67, 0.245), (2012.68, 0.290), (2012.69, 0.250),
    (2012.70, 0.300), (2012.71, 0.260), (2012.72, 0.280), (2012.74, 0.300), (2012.76, 0.330),
    (2012.78, 0.370), (2012.80, 0.380), (2012.82, 0.370), (2012.85, 0.375), (2012.88, 0.365),
    (2012.91, 0.370), (2012.94, 0.360), (2012.97, 0.370), (2013.00, 0.365), (2013.03, 0.370),
    (2013.06, 0.375), (2013.09, 0.370), (2013.12, 0.375), (2013.15, 0.380), (2013.18, 0.370),
    (2013.21, 0.380), (2013.24, 0.375), (2013.27, 0.380), (2013.30, 0.370), (2013.33, 0.385),
    (2013.36, 0.375), (2013.39, 0.380), (2013.42, 0.370), (2013.45, 0.385), (2013.48, 0.375),
    (2013.51, 0.390), (2013.53, 0.370), (2013.55, 0.360), (2013.57, 0.330), (2013.59, 0.300),
    (2013.61, 0.270), (2013.63, 0.250), (2013.65, 0.240), (2013.67, 0.235), (2013.68, 0.300),
    (2013.69, 0.260), (2013.70, 0.300), (2013.71, 0.270), (2013.72, 0.280), (2013.725, 0.360),
    (2013.73, 0.355),
    (2014.30, None),
    (2014.90, 0.365), (2014.93, 0.360), (2014.96, 0.365), (2014.99, 0.360), (2015.02, 0.355),
    (2015.05, 0.350), (2015.08, 0.345), (2015.11, 0.340), (2015.14, 0.340), (2015.17, 0.335),
    (2015.19, 0.340), (2015.21, 0.350), (2015.24, 0.350), (2015.27, 0.355), (2015.30, 0.350),
    (2015.33, 0.355), (2015.36, 0.350), (2015.39, 0.355), (2015.41, 0.365), (2015.44, 0.370),
    (2015.47, 0.365), (2015.50, 0.370), (2015.53, 0.360), (2015.55, 0.330), (2015.57, 0.300),
    (2015.59, 0.285), (2015.62, 0.280), (2015.66, 0.275), (2015.70, 0.280), (2015.74, 0.275),
    (2015.78, 0.280), (2015.80, 0.275), (2015.81, 0.350), (2015.83, 0.355), (2015.87, 0.360),
    (2015.91, 0.360), (2015.95, 0.365), (2015.99, 0.360), (2016.03, 0.365), (2016.07, 0.365),
    (2016.11, 0.365), (2016.15, 0.370), (2016.19, 0.365), (2016.23, 0.370), (2016.27, 0.365),
    (2016.31, 0.370), (2016.35, 0.365), (2016.39, 0.370), (2016.42, 0.375), (2016.45, 0.365),
    (2016.48, 0.360), (2016.50, 0.340), (2016.52, 0.320), (2016.54, 0.300), (2016.56, 0.280),
    (2016.58, 0.275), (2016.60, 0.265), (2016.61, 0.330), (2016.62, 0.290), (2016.64, 0.300),
    (2016.68, 0.295), (2016.72, 0.295), (2016.76, 0.290), (2016.80, 0.290), (2016.83, 0.290),
    (2016.84, 0.330), (2016.85, 0.320), (2016.87, 0.340), (2016.89, 0.350), (2016.92, 0.360),
    (2016.96, 0.365), (2017.00, 0.370), (2017.04, 0.365), (2017.08, 0.370), (2017.12, 0.365),
    (2017.16, 0.370), (2017.20, 0.365), (2017.24, 0.370), (2017.28, 0.360), (2017.32, 0.365),
    (2017.34, 0.360), (2017.36, 0.340), (2017.38, 0.300), (2017.40, 0.270), (2017.42, 0.245),
    (2017.46, 0.245), (2017.50, 0.245), (2017.52, 0.250), (2017.53, 0.280), (2017.54, 0.270),
    (2017.58, 0.270), (2017.62, 0.270), (2017.65, 0.270), (2017.67, 0.310), (2017.69, 0.350),
    (2017.71, 0.340), (2017.73, 0.350), (2017.75, 0.330), (2017.77, 0.345), (2017.79, 0.350),
    (2017.83, 0.355), (2017.87, 0.350), (2017.91, 0.355), (2017.95, 0.350), (2017.99, 0.350),
    (2018.03, 0.355), (2018.07, 0.350), (2018.11, 0.350), (2018.15, 0.345), (2018.19, 0.350),
    (2018.23, 0.355), (2018.27, 0.355), (2018.31, 0.360), (2018.35, 0.360),
]

depths = ["10", "20", "40", "70"]
panel_tags = ["(A)", "(B)", "(C)", "(D)"]
series_names = ["DT", "CT-I"]
series_colors = ["#F8766D", "#00BFC4"]
panel_series = [
    [dt_10, ct_10],
    [dt_20, None],
    [dt_40, ct_40],
    [dt_70, ct_70],
]

# ---------------- helpers ----------------
W, H = 891, 1226


def year_to_date(y):
    yr = int(y)
    start = datetime(yr, 1, 1)
    end = datetime(yr + 1, 1, 1)
    return start + (end - start) * (y - yr)


def px_x(p):
    return p / W


def px_y(p):
    return 1 - p / H


# panel geometry in pixels: (strip top, plot top, plot bottom)
panels_px = [(8, 43, 255), (294, 327, 539), (579, 612, 825), (864, 897, 1109)]
left_px = 72
x_range = [year_to_date(2011.2098), year_to_date(2018.6316)]
y_range = [-0.049, 0.473]

fig = go.Figure()

for i, (depth, pair) in enumerate(zip(depths, panel_series)):
    ax = "" if i == 0 else str(i + 1)
    for k, series in enumerate(pair):
        if series is None:
            continue
        xs = [year_to_date(t) for t, v in series]
        ys = [v for t, v in series]
        fig.add_trace(go.Scatter(
            x=xs, y=ys, mode="lines", name=series_names[k],
            legendgroup=series_names[k], showlegend=(i == 0),
            line=dict(color=series_colors[k], width=1.3),
            connectgaps=False, xaxis="x" + ax, yaxis="y" + ax,
        ))

layout = dict(
    width=W, height=H,
    margin=dict(l=0, r=0, t=0, b=0),
    paper_bgcolor="white", plot_bgcolor="white",
    font=dict(family="Liberation Sans, Arial, sans-serif", color="#4D4D4D"),
    showlegend=True,
    legend=dict(
        orientation="h", x=493 / W, xanchor="center", y=px_y(1213), yanchor="middle",
        font=dict(size=18, color="#1A1A1A"), itemwidth=30, bgcolor="rgba(0,0,0,0)",
        entrywidth=40, entrywidthmode="pixels",
    ),
)

shapes = []
annotations = []
for i, (strip_top, top, bottom) in enumerate(panels_px):
    ax = "" if i == 0 else str(i + 1)
    layout["xaxis" + ax] = dict(
        domain=[px_x(left_px), 1], range=x_range, type="date", anchor="y" + ax,
        tick0="2012-01-01", dtick="M24", tickformat="%Y",
        ticks="outside", ticklen=4, tickwidth=1.1, tickcolor="#333333",
        tickfont=dict(size=18, color="#4D4D4D"),
        showgrid=True, gridcolor="#EBEBEB", gridwidth=1.3,
        minor=dict(tick0="2011-01-01", dtick="M12", showgrid=True,
                   gridcolor="#F0F0F0", gridwidth=1.0),
        zeroline=False, showline=False, fixedrange=True,
    )
    layout["yaxis" + ax] = dict(
        domain=[px_y(bottom), px_y(top)], range=y_range, anchor="x" + ax,
        tick0=0, dtick=0.1, tickformat=".1f",
        ticks="outside", ticklen=4, tickwidth=1.1, tickcolor="#333333",
        tickfont=dict(size=18, color="#4D4D4D"),
        showgrid=True, gridcolor="#EBEBEB", gridwidth=1.3,
        minor=dict(tick0=0.05, dtick=0.1, showgrid=True,
                   gridcolor="#F0F0F0", gridwidth=1.0),
        zeroline=False, showline=False, fixedrange=True,
    )
    # panel border (right edge runs past the page)
    shapes.append(dict(type="rect", xref="paper", yref="paper",
                       x0=px_x(left_px), x1=1.02, y0=px_y(bottom), y1=px_y(top),
                       line=dict(color="#333333", width=1.4), layer="above"))
    # facet strip
    shapes.append(dict(type="rect", xref="paper", yref="paper",
                       x0=px_x(left_px), x1=1.02, y0=px_y(top), y1=px_y(strip_top),
                       fillcolor="#D9D9D9", line=dict(color="#333333", width=1.4),
                       layer="above"))
    annotations.append(dict(text=depths[i], xref="paper", yref="paper",
                            x=486 / W, y=px_y((strip_top + top) / 2 + 1),
                            xanchor="center", yanchor="middle", showarrow=False,
                            font=dict(size=18, color="#1A1A1A")))
    annotations.append(dict(text=panel_tags[i], xref="paper", yref="paper",
                            x=px_x(70), y=px_y(top + 31), xanchor="left", yanchor="middle",
                            showarrow=False,
                            font=dict(family="Liberation Serif, Times New Roman, serif",
                                      size=37, color="black")))

# axis titles
annotations.append(dict(text="Date", xref="paper", yref="paper", x=485.5 / W, y=px_y(1154),
                        xanchor="center", yanchor="middle", showarrow=False,
                        font=dict(size=21, color="black")))
annotations.append(dict(text="Soil Moisture (m3/m3)", xref="paper", yref="paper",
                        x=px_x(21), y=px_y(576), xanchor="center", yanchor="middle",
                        textangle=-90, showarrow=False, font=dict(size=21, color="black")))

# thin vertical guide line crossing the panels
shapes.append(dict(type="line", xref="paper", yref="paper",
                   x0=px_x(131), y0=px_y(8), x1=px_x(137), y1=px_y(1109),
                   line=dict(color="#222222", width=1.3), layer="above"))

layout["shapes"] = shapes
layout["annotations"] = annotations
fig.update_layout(**layout)

fig.write_html("out.html")
